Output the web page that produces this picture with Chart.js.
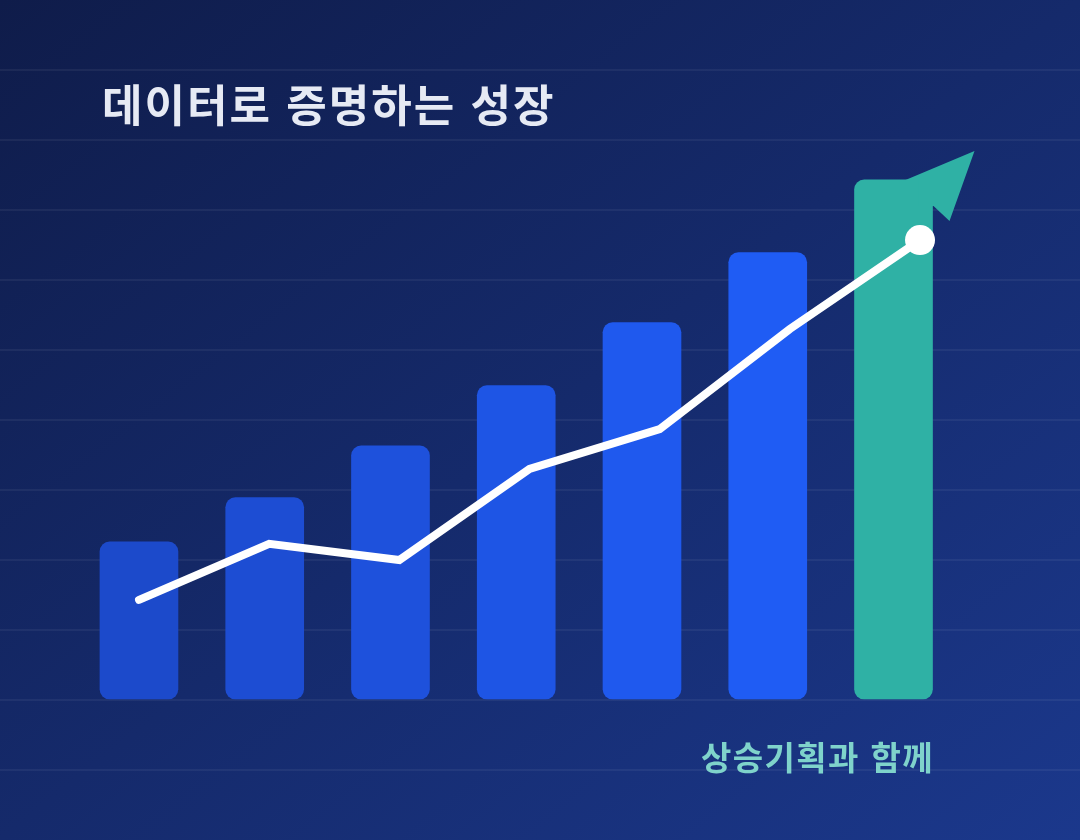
<!DOCTYPE html>
<html lang="ko">
<head>
<meta charset="utf-8">
<script src="https://cdn.jsdelivr.net/npm/chart.js@4.4.1/dist/chart.umd.min.js"></script>
<style>
    html, body {
        margin: 0;
        padding: 0;
    }
    #wrap {
        position: relative;
        width: 1080px;
        height: 840px;
        overflow: hidden;
        background: linear-gradient(to bottom right, #0f1c4a, #1b388c);
        font-family: "Noto Sans CJK KR", "Noto Sans", sans-serif;
    }
    #growth {
        position: absolute;
        left: 0;
        top: 0;
    }
    .title {
        position: absolute;
        left: 102px;
        top: 79px;
        font-size: 44px;
        line-height: 48px;
        letter-spacing: 2px;
        font-weight: 700;
        color: #e6eaf4;
        white-space: nowrap;
    }
    .tagline {
        position: absolute;
        right: 146px;
        top: 736px;
        font-size: 33px;
        line-height: 40px;
        letter-spacing: 1.4px;
        font-weight: 700;
        color: #7fd3cb;
        white-space: nowrap;
    }
</style>
</head>
<body>
<div id="wrap">
    <canvas id="growth" width="1080" height="840"></canvas>
    <div class="title">데이터로 증명하는 성장</div>
    <div class="tagline">상승기획과 함께</div>
</div>
<script>
// 단계별 값
var stages = [1, 2, 3, 4, 5, 6, 7];
var barValues = [22.6, 28.9, 36.3, 44.9, 53.9, 63.9, 74.3];
var lineValues = [14.3, 22.3, 20.0, 33.0, 38.7, 53.0, 65.7];
var yMin = -20, yMax = 100, yStep = 10;

var barColors = ['#1c4acb', '#1d4dd3', '#1e51dc', '#1e55e5', '#1f59ee', '#1f5cf4', '#2fb1a5'];

// 마지막 막대 위에 화살표 머리
var arrowHead = {
    id: 'arrowHead',
    afterDatasetDraw: function(chart, args) {
        if (args.meta.type !== 'bar') return;
        let el = args.meta.data[args.meta.data.length - 1];
        let r = el.x + el.width / 2;
        let top = el.y;
        let ctx = chart.ctx;
        ctx.save();
        ctx.fillStyle = barColors[barColors.length - 1];
        ctx.beginPath();
        ctx.moveTo(r - 27, top);
        ctx.lineTo(r + 42, top - 29);
        ctx.lineTo(r + 17, top + 41);
        ctx.lineTo(r + 1, top + 26);
        ctx.lineTo(r - 14, top + 26);
        ctx.lineTo(r - 14, top);
        ctx.closePath();
        ctx.fill();
        ctx.restore();
    }
};

function growthChart() {
    let ctx = document.getElementById('growth').getContext('2d');

    new Chart(ctx, {
        type: 'bar',
        data: {
            datasets: [{
                type: 'line',
                xAxisID: 'xLine',
                data: stages.map((s, i) => ({x: i, y: lineValues[i]})),
                borderColor: '#ffffff',
                borderWidth: 8,
                borderCapStyle: 'round',
                borderJoinStyle: 'miter',
                tension: 0,
                fill: false,
                pointRadius: c => c.dataIndex === stages.length - 1 ? 15 : 0,
                pointBackgroundColor: '#ffffff',
                pointBorderWidth: 0,
                pointHoverRadius: 0,
                clip: false,
                order: 0
            },
            {
                type: 'bar',
                xAxisID: 'xBar',
                data: stages.map((s, i) => ({x: i, y: barValues[i]})),
                backgroundColor: barColors,
                borderRadius: 10,
                borderSkipped: false,
                grouped: false,
                barThickness: 78,
                maxBarThickness: 78,
                order: 1
            }]
        },
        options: {
            responsive: false,
            animation: false,
            layout: { padding: 0, autoPadding: false },
            plugins: {
                legend: { display: false },
                tooltip: { enabled: false }
            },
            scales: {
                xBar: {
                    type: 'linear',
                    display: false,
                    offset: false,
                    min: -1.105,
                    max: 7.483
                },
                xLine: {
                    type: 'linear',
                    display: false,
                    offset: false,
                    min: -1.068,
                    max: 7.229
                },
                y: {
                    min: yMin,
                    max: yMax,
                    ticks: {
                        display: false,
                        stepSize: yStep
                    },
                    border: { display: false },
                    grid: {
                        drawTicks: false,
                        tickLength: 0,
                        lineWidth: 2,
                        color: c => (c.tick && (c.tick.value === yMin || c.tick.value === yMax)) ? 'transparent' : 'rgba(255, 255, 255, .055)'
                    }
                }
            }
        },
        plugins: [arrowHead]
    });
}

growthChart();
</script>
</body>
</html>
